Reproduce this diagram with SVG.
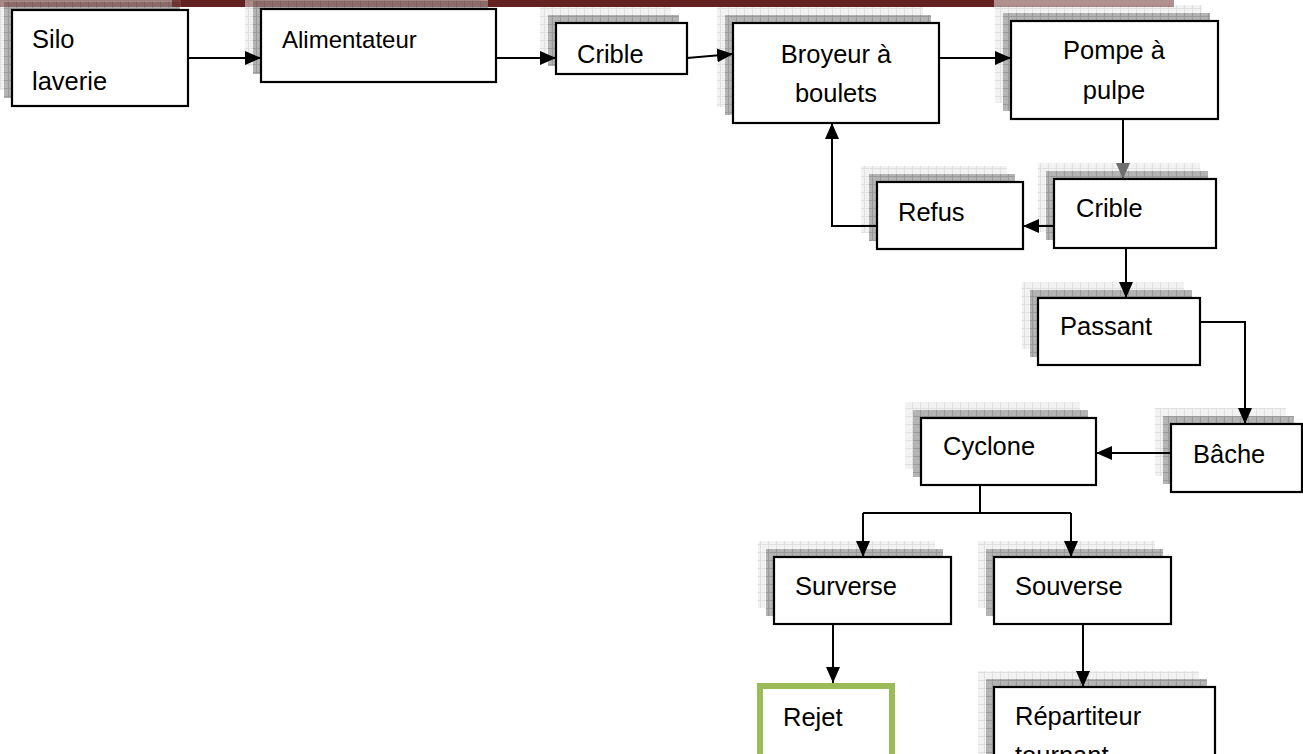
<svg xmlns="http://www.w3.org/2000/svg" width="1303" height="754" viewBox="0 0 1303 754">
<defs>
<pattern id="pd" width="8" height="8" patternUnits="userSpaceOnUse">
<rect width="8" height="8" fill="#b3b3b3"/>
<path d="M0,0.5H8M0.5,0V8" stroke="#9a9a9a" stroke-width="1"/>
<rect x="2" y="2" width="1" height="1" fill="#c4c4c4"/><rect x="5" y="5" width="1" height="1" fill="#c4c4c4"/>
</pattern>
<pattern id="pl" width="8" height="8" patternUnits="userSpaceOnUse">
<rect width="8" height="8" fill="#f2f2f2"/>
<path d="M0,0.5H8M0.5,0V8" stroke="#e0e0e0" stroke-width="1"/>
</pattern>
<marker id="ah" markerWidth="16" markerHeight="14" refX="16" refY="7" orient="auto" markerUnits="userSpaceOnUse">
<path d="M0,0L16,7L0,14Z" fill="#000"/>
</marker>
<marker id="ahg" markerWidth="16" markerHeight="14" refX="16" refY="7" orient="auto" markerUnits="userSpaceOnUse">
<path d="M0,0L16,7L0,14Z" fill="#6e6e6e"/>
</marker>
<style>
.b{fill:#fff;stroke:#000;stroke-width:2.2}
.sl{fill:url(#pl)}
.sd{fill:url(#pd)}
.t{font-family:"Liberation Sans",Arial,sans-serif;font-size:25.5px;fill:#000}
.c{fill:none;stroke:#000;stroke-width:2}
</style>
</defs>

<g id="silo">
<rect class="sl" x="-4" y="-6" width="176" height="96"/><rect class="sd" x="4" y="2" width="176" height="96"/>
<rect class="b" x="12" y="10" width="176" height="96"/>
<text class="t" x="32" y="48">Silo</text><text class="t" x="32" y="90">laverie</text>
</g>
<g id="alimentateur">
<rect class="sl" x="245" y="-7" width="235" height="73"/><rect class="sd" x="253" y="1" width="235" height="73"/>
<rect class="b" x="261" y="9" width="235" height="73"/>
<text class="t" x="282" y="48" style="font-size:24px">Alimentateur</text>
</g>
<g id="crible1">
<rect class="sl" x="540" y="7" width="131" height="51"/><rect class="sd" x="548" y="15" width="131" height="51"/>
<rect class="b" x="556" y="23" width="131" height="51"/>
<text class="t" x="577" y="63">Crible</text>
</g>
<g id="broyeur">
<rect class="sl" x="717" y="7" width="206" height="100"/><rect class="sd" x="725" y="15" width="206" height="100"/>
<rect class="b" x="733" y="23" width="206" height="100"/>
<text class="t" x="836" y="63" text-anchor="middle">Broyeur à</text><text class="t" x="836" y="102" text-anchor="middle">boulets</text>
</g>
<g id="pompe">
<rect class="sl" x="995" y="5" width="207" height="98"/><rect class="sd" x="1003" y="13" width="207" height="98"/>
<rect class="b" x="1011" y="21" width="207" height="98"/>
<text class="t" x="1114" y="59" text-anchor="middle">Pompe à</text><text class="t" x="1114" y="99" text-anchor="middle">pulpe</text>
</g>
<g id="crible2">
<rect class="sl" x="1038" y="163" width="162" height="69"/><rect class="sd" x="1046" y="171" width="162" height="69"/>
<rect class="b" x="1054" y="179" width="162" height="69"/>
<text class="t" x="1076" y="217">Crible</text>
</g>
<g id="refus">
<rect class="sl" x="861" y="166" width="146" height="67"/><rect class="sd" x="869" y="174" width="146" height="67"/>
<rect class="b" x="877" y="182" width="146" height="67"/>
<text class="t" x="898" y="221">Refus</text>
</g>
<g id="passant">
<rect class="sl" x="1022" y="282" width="162" height="67"/><rect class="sd" x="1030" y="290" width="162" height="67"/>
<rect class="b" x="1038" y="298" width="162" height="67"/>
<text class="t" x="1060" y="335">Passant</text>
</g>
<g id="bache">
<rect class="sl" x="1155" y="408" width="131" height="68"/><rect class="sd" x="1163" y="416" width="131" height="68"/>
<rect class="b" x="1171" y="424" width="131" height="68"/>
<text class="t" x="1193" y="463">Bâche</text>
</g>
<g id="cyclone">
<rect class="sl" x="905" y="402" width="175" height="67"/><rect class="sd" x="913" y="410" width="175" height="67"/>
<rect class="b" x="921" y="418" width="175" height="67"/>
<text class="t" x="943" y="455">Cyclone</text>
</g>
<g id="surverse">
<rect class="sl" x="758" y="541" width="177" height="67"/><rect class="sd" x="766" y="549" width="177" height="67"/>
<rect class="b" x="774" y="557" width="177" height="67"/>
<text class="t" x="795" y="595">Surverse</text>
</g>
<g id="souverse">
<rect class="sl" x="978" y="541" width="177" height="67"/><rect class="sd" x="986" y="549" width="177" height="67"/>
<rect class="b" x="994" y="557" width="177" height="67"/>
<text class="t" x="1015" y="595">Souverse</text>
</g>
<g id="rejet">
<rect x="760" y="686" width="132" height="90" fill="#fff" stroke="#9bbb59" stroke-width="6"/>
<text class="t" x="783" y="726">Rejet</text>
</g>
<g id="repartiteur">
<rect class="sl" x="978" y="671" width="221" height="100"/><rect class="sd" x="986" y="679" width="221" height="100"/>
<rect class="b" x="994" y="687" width="221" height="100"/>
<text class="t" x="1015" y="725">Répartiteur</text><text class="t" x="1015" y="764">tournant</text>
</g>

<g id="topbar">
<rect x="0" y="0" width="1174" height="7" fill="#642121" opacity="0.5"/>
<rect x="172" y="0" width="9" height="7" fill="#642121" opacity="0.75"/>
<rect x="181" y="0" width="64" height="7" fill="#642121"/>
<rect x="488" y="0" width="506" height="7" fill="#642121"/>
</g>

<g id="connectors">
<path class="c" d="M188,58H261" marker-end="url(#ah)"/>
<path class="c" d="M496,58H556" marker-end="url(#ah)"/>
<path class="c" d="M687,58L733,54" marker-end="url(#ah)"/>
<path class="c" d="M939,58H1011" marker-end="url(#ah)"/>
<path class="c" d="M1123,119V179" marker-end="url(#ahg)"/>
<path class="c" d="M1054,226H1023" marker-end="url(#ah)"/>
<path class="c" d="M877,226H832V123" marker-end="url(#ah)"/>
<path class="c" d="M1126,248V298" marker-end="url(#ah)"/>
<path class="c" d="M1200,322H1245V424" marker-end="url(#ah)"/>
<path class="c" d="M1171,453H1096" marker-end="url(#ah)"/>
<path class="c" d="M980,485V513M863,513H1071"/>
<path class="c" d="M863,513V557" marker-end="url(#ah)"/>
<path class="c" d="M1071,513V557" marker-end="url(#ah)"/>
<path class="c" d="M833,624V683" marker-end="url(#ah)"/>
<path class="c" d="M1083,624V687" marker-end="url(#ah)"/>
</g>
</svg>
